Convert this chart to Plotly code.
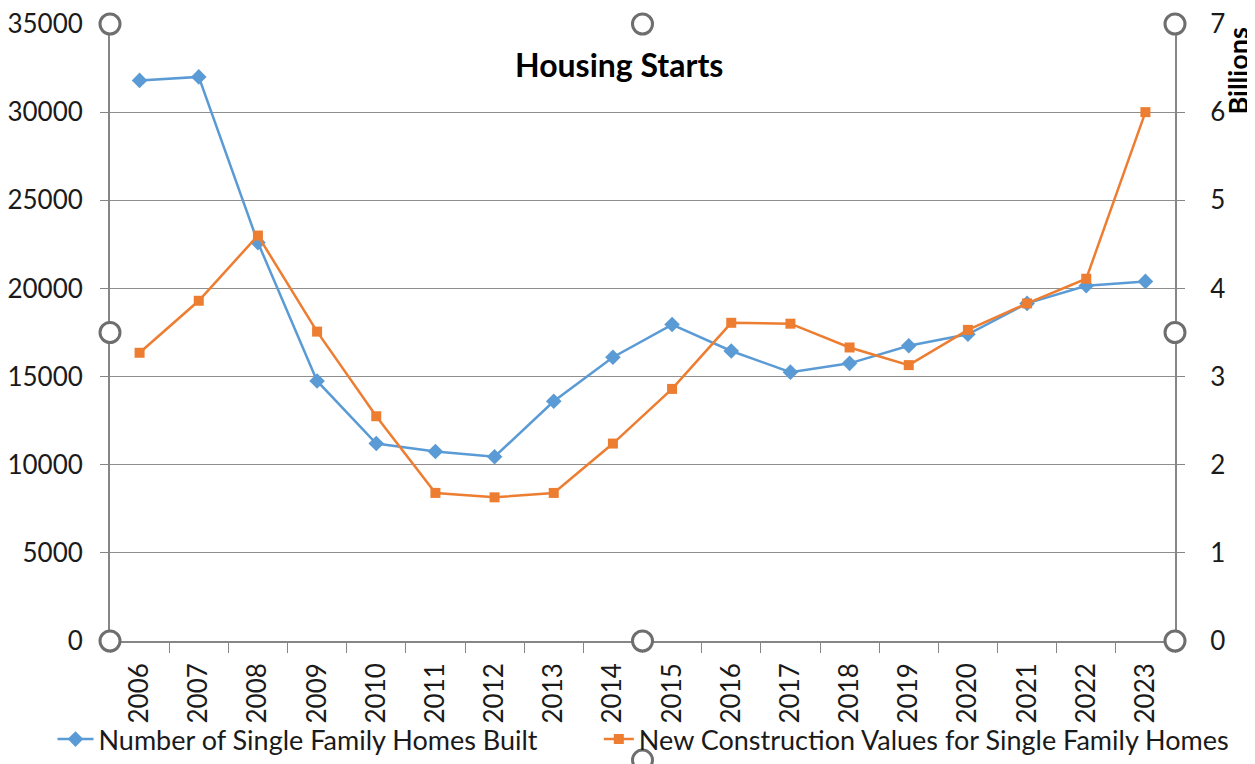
import plotly.graph_objects as go

years = [str(y) for y in range(2006, 2024)]
homes_built = [31800, 32000, 22600, 14750, 11200, 10750, 10450, 13600, 16100,
               17950, 16450, 15250, 15750, 16750, 17400, 19150, 20150, 20400]
construction_values = [3.27, 3.86, 4.60, 3.51, 2.55, 1.68, 1.63, 1.68, 2.24,
                       2.86, 3.61, 3.60, 3.33, 3.13, 3.53, 3.83, 4.11, 6.00]

FONT = "Lato"
TXT = "#1a1a1a"
GRID = "#8f8f8f"
AX = "#868686"

fig = go.Figure()
fig.add_trace(go.Scatter(
    x=years, y=homes_built, name="Number of Single Family Homes Built",
    mode="lines+markers", line=dict(color="#5B9BD5", width=2.5),
    marker=dict(symbol="diamond", size=12, color="#5B9BD5"), yaxis="y", legend="legend"))
fig.add_trace(go.Scatter(
    x=years, y=construction_values, name="New Construction Values for Single Family Homes",
    mode="lines+markers", line=dict(color="#ED7D31", width=2.5),
    marker=dict(symbol="square", size=10, color="#ED7D31"), yaxis="y2", legend="legend2"))

handles = [(0, 1), (0.5, 1), (1, 1), (0, 0.5), (1, 0.5), (0, 0), (0.5, 0), (1, 0), (0.5, -0.193)]
shapes = []
for hx, hy in handles:
    shapes.append(dict(type="circle", xref="paper", yref="paper", xsizemode="pixel", ysizemode="pixel",
                       xanchor=hx, yanchor=hy, x0=-10, x1=10, y0=-10, y1=10,
                       line=dict(color="#6e6e6e", width=3), fillcolor="white", layer="above"))

legend_common = dict(orientation="h", yanchor="top", xanchor="left", bgcolor="rgba(0,0,0,0)",
                     font=dict(family=FONT, size=27, color=TXT))

fig.update_layout(
    width=1247, height=756, autosize=False,
    margin=dict(l=102, r=80, t=16, b=123, autoexpand=False),
    paper_bgcolor="white", plot_bgcolor="white",
    font=dict(family=FONT, size=26, color=TXT),
    showlegend=True,
    legend=dict(x=-0.054, y=-0.12, itemwidth=36, **legend_common),
    legend2=dict(x=0.459, y=-0.12, itemwidth=30, **legend_common),
    xaxis=dict(type="category", range=[-0.5, 17.5], tickangle=-90, showgrid=False,
               showline=True, linecolor=AX, linewidth=1.5, automargin=False,
               ticks="outside", tickson="boundaries", ticklen=10, tickcolor=AX,
               ticklabelstandoff=10, ticklabeloverflow="allow",
               tickfont=dict(family=FONT, size=26, color=TXT)),
    yaxis=dict(range=[0, 35000], dtick=5000, showgrid=True, gridcolor=GRID, gridwidth=1.3,
               showline=True, linecolor=AX, linewidth=2, ticks="outside", ticklen=8,
               tickcolor=AX, zeroline=False, tickformat="d", automargin=False,
               ticklabelstandoff=12, ticklabeloverflow="allow",
               tickfont=dict(family=FONT, size=26, color=TXT)),
    yaxis2=dict(range=[0, 7], dtick=1, overlaying="y", side="right", showgrid=False,
                showline=True, linecolor=AX, linewidth=2, ticks="outside", ticklen=8,
                tickcolor=AX, zeroline=False, automargin=False, ticklabelstandoff=20,
                ticklabeloverflow="allow",
                tickfont=dict(family=FONT, size=26, color=TXT)),
    annotations=[
        dict(text="<b>Housing Starts</b>", xref="paper", yref="paper", x=0.478, y=0.935,
             showarrow=False, font=dict(family=FONT, size=32, color="#000"),
             xanchor="center", yanchor="middle"),
        dict(text="<b>Billions</b>", xref="paper", yref="paper", x=1.0, xshift=62, y=1.0,
             yshift=-2, showarrow=False, textangle=-90, font=dict(family=FONT, size=27, color="#000"),
             xanchor="center", yanchor="top"),
    ],
    shapes=shapes,
)

fig.write_html("out.html")
